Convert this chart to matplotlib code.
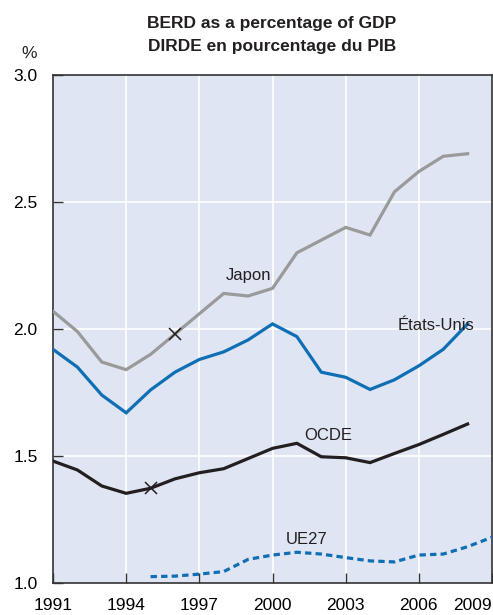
import matplotlib
matplotlib.use("Agg")
import matplotlib.pyplot as plt

FONT = ['Liberation Sans Narrow', 'Liberation Sans', 'DejaVu Sans']
plt.rcParams['font.family'] = FONT

years_main = list(range(1991, 2009))
japon = [2.07, 1.99, 1.87, 1.84, 1.90, 1.98, 2.06, 2.14, 2.13, 2.16,
         2.30, 2.35, 2.40, 2.37, 2.54, 2.62, 2.68, 2.69]
etats_unis = [1.92, 1.85, 1.74, 1.67, 1.76, 1.83, 1.88, 1.91, 1.957, 2.02,
              1.97, 1.83, 1.81, 1.762, 1.80, 1.855, 1.92, 2.02]
ocde = [1.48, 1.445, 1.382, 1.353, 1.373, 1.41, 1.434, 1.45, 1.49, 1.53,
        1.55, 1.497, 1.493, 1.474, 1.51, 1.545, 1.585, 1.626]
years_ue = list(range(1995, 2010))
ue27 = [1.025, 1.027, 1.035, 1.045, 1.093, 1.11, 1.121, 1.114, 1.10,
        1.087, 1.083, 1.11, 1.114, 1.143, 1.18]

break_japon_year = 1996
break_ocde_year = 1995

xticks = [1991, 1994, 1997, 2000, 2003, 2006, 2009]
yticks = [1.0, 1.5, 2.0, 2.5, 3.0]
title = "BERD as a percentage of GDP\nDIRDE en pourcentage du PIB"

fig = plt.figure(figsize=(4.93, 6.15), dpi=100)
ax = fig.add_axes([53/493, 1-583/615, (492-53)/493, (583-75)/615])
ax.set_facecolor('#dfe5f3')

ax.set_xlim(1991, 2009)
ax.set_ylim(1.0, 3.0)

for x in xticks[1:-1]:
    ax.axvline(x, color='white', lw=1.2, zorder=1)
for y in yticks[1:-1]:
    ax.axhline(y, color='white', lw=1.2, zorder=1)

c_gray = '#9a9a9a'
c_blue = '#0f6fb5'
c_black = '#231f20'
lw = 2.3
ax.plot(years_main, japon, color=c_gray, lw=lw, zorder=3, solid_joinstyle='miter')
ax.plot(years_main, etats_unis, color=c_blue, lw=lw, zorder=3, solid_joinstyle='miter')
ax.plot(years_main, ocde, color=c_black, lw=lw, zorder=3, solid_joinstyle='miter')
ax.plot(years_ue, ue27, color=c_blue, lw=lw, ls=(0, (2.0, 1.3)), zorder=3)

ax.plot([break_japon_year], [japon[years_main.index(break_japon_year)]], marker='x',
        color=c_black, ms=8, mew=1.1, zorder=4)
ax.plot([break_ocde_year], [ocde[years_main.index(break_ocde_year)]], marker='x',
        color=c_black, ms=8, mew=1.1, zorder=4)

lab_kw = dict(fontsize=12, color='#231f20', ha='center', va='center', zorder=5)
ax.text(1999.0, 2.21, "Japon", **lab_kw)
ax.text(2006.7, 2.015, "États-Unis", **lab_kw)
ax.text(2002.3, 1.58, "OCDE", **lab_kw)
ax.text(2001.4, 1.172, "UE27", **lab_kw)

ax.set_xticks(xticks)
ax.set_xticklabels([str(x) for x in xticks], fontsize=12.5)
ax.set_yticks(yticks)
ax.set_yticklabels([f"{y:.1f}" for y in yticks], fontsize=12.5)
ax.tick_params(axis='both', direction='in', length=7, width=1, color='#333333')
ax.tick_params(axis='x', pad=11)
ax.tick_params(axis='y', pad=11)
labels = ax.get_xticklabels()
labels[-1].set_ha('right')
labels[-1].set_x(2009)

for s in ax.spines.values():
    s.set_color('#333333')
    s.set_linewidth(1.2)

fig.text(272/493, 1-35/615, title, ha='center', va='center', fontsize=12.5,
         fontweight='bold', linespacing=1.6, color='#231f20')
fig.text(29/493, 1-53/615, "%", ha='center', va='center', fontsize=12.5, color='#231f20')

fig.savefig("out.png", dpi=100)
